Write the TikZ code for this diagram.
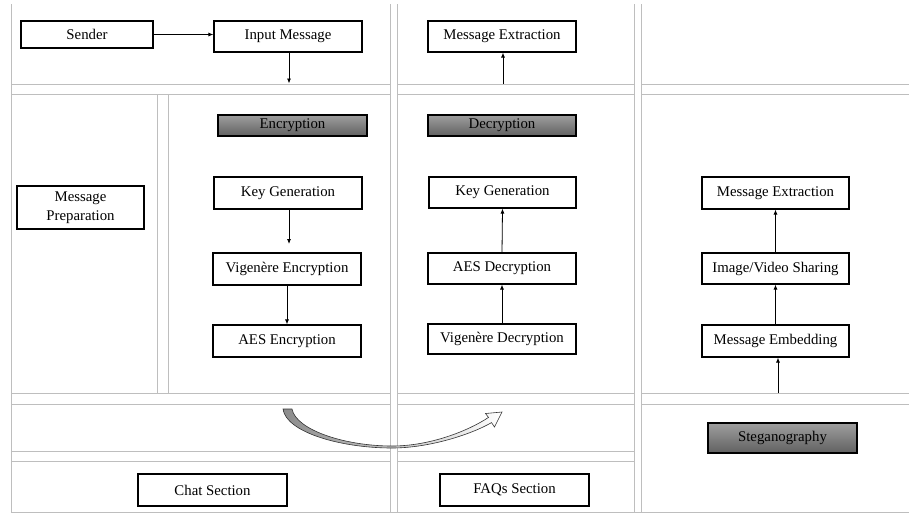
\documentclass[tikz,border=0pt]{standalone}
\usepackage{fontspec}
\setmainfont{Liberation Serif}
\usetikzlibrary{arrows.meta}
\definecolor{gridgray}{HTML}{BEBEBE}
\tikzset{
  box/.style={draw=black, line width=1.1pt, fill=white, inner sep=0pt, align=center,
    font=\fontsize{14.8}{17}\selectfont},
  hdr/.style={box, top color=black!38, bottom color=black!62},
  grid/.style={draw=gridgray, line width=1pt},
  conn/.style={draw=black, line width=0.8pt, -{Latex[length=5pt,width=4pt]}}
}
\begin{document}
\begin{tikzpicture}[x=1pt, y=-1pt]
\useasboundingbox (0,0) rectangle (909,515);
% table grid
\draw[grid] (11,4) -- (11,512);
\draw[grid] (390,4) -- (390,512) (397,4) -- (397,512);
\draw[grid] (634,4) -- (634,512) (641,4) -- (641,512);
\draw[grid] (157,94) -- (157,393) (168,94) -- (168,393);
\foreach \yy in {84,94,393,404}{
  \draw[grid] (11,\yy) -- (390,\yy) (397,\yy) -- (634,\yy) (641,\yy) -- (909,\yy);
}
\foreach \yy in {451,461}{
  \draw[grid] (11,\yy) -- (390,\yy) (397,\yy) -- (634,\yy);
}
\draw[grid] (11,512) -- (909,512);

% nodes
\node[box, minimum width=132pt, minimum height=27pt] (sender) at (87,34.5) {Sender};
\node[box, minimum width=148pt, minimum height=31pt] (input) at (288,36.5) {Input Message};
\node[box, minimum width=148pt, minimum height=31pt] (mext1) at (502,36.5) {Message Extraction};
\node[hdr, minimum width=149pt, minimum height=21pt] (enc) at (292.5,125.5) {Encryption};
\node[hdr, minimum width=148pt, minimum height=21pt] (dec) at (502,125.5) {Decryption};
\node[box, minimum width=127pt, minimum height=43pt] (prep) at (80.5,207.5) {Message\\[2pt]Preparation};
\node[box, minimum width=148pt, minimum height=32pt] (kg1) at (288,193) {Key Generation};
\node[box, minimum width=148pt, minimum height=32pt] (vige) at (287,269) {Vigenère Encryption};
\node[box, minimum width=148pt, minimum height=32pt] (aese) at (287,341) {AES Encryption};
\node[box, minimum width=147pt, minimum height=31pt] (kg2) at (502.5,192.5) {Key Generation};
\node[box, minimum width=148pt, minimum height=31pt] (aesd) at (502,268.5) {AES Decryption};
\node[box, minimum width=148pt, minimum height=30pt] (vigd) at (502,339) {Vigenère Decryption};
\node[box, minimum width=147pt, minimum height=32pt] (mext2) at (775.5,193) {Message Extraction};
\node[box, minimum width=147pt, minimum height=31pt] (share) at (775.5,268.5) {Image/Video Sharing};
\node[box, minimum width=147pt, minimum height=32pt] (embed) at (775.5,341) {Message Embedding};
\node[hdr, minimum width=149pt, minimum height=30pt] (steg) at (782.5,438) {Steganography};
\node[box, minimum width=149pt, minimum height=32pt] (chat) at (212.5,490) {Chat Section};
\node[box, minimum width=149pt, minimum height=32pt] (faq) at (514.5,490) {FAQs Section};

% free ends
\coordinate (c1) at (289,83.5);
\coordinate (c2) at (503,84);
\coordinate (c3) at (289,244);
\coordinate (c4) at (778,393);

% connectors
\draw[conn] (sender.east) -- (sender.east -| input.west);
\draw[conn] (input.south -| c1) -- (c1);
\draw[conn] (c2) -- (c2 |- mext1.south);
\draw[conn] (kg1.south -| c3) -- (c3);
\draw[conn] (vige.south) -- (aese.north);
\draw[conn] (vigd.north) -- (aesd.south);
\draw[conn] (aesd.north) -- (kg2.south);
\draw[conn] (c4) -- (c4 |- embed.south);
\draw[conn] (embed.north) -- (share.south);
\draw[conn] (share.north) -- (mext2.south);

% curved block arrow
\draw[draw=black!80, line width=0.6pt, left color=black!45, right color=white]
  (283,409) .. controls (286,432) and (340,448) .. (392,448)
  .. controls (430,448) and (472,434) .. (491.5,422.6)
  -- (494.5,427) -- (502,412) -- (485.5,413.5) -- (488.5,417.4)
  .. controls (468,431) and (430,446) .. (392,446)
  .. controls (345,446) and (296,430) .. (292,409) -- cycle;
\end{tikzpicture}
\end{document}
